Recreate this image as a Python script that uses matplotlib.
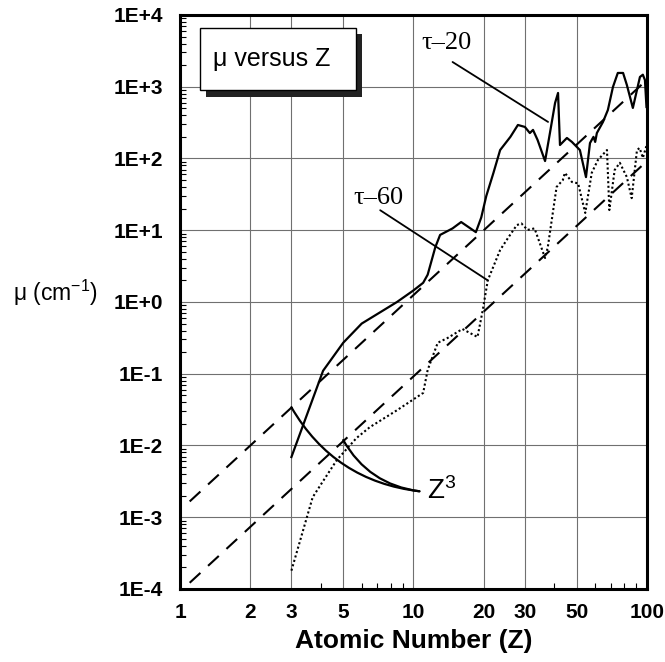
import matplotlib
matplotlib.use("Agg")
import matplotlib.pyplot as plt
from matplotlib.patches import Rectangle
from matplotlib.ticker import FixedLocator, NullFormatter

plt.rcParams["font.family"] = ["Liberation Sans", "DejaVu Sans"]
plt.rcParams["mathtext.fontset"] = "custom"
plt.rcParams["mathtext.rm"] = "Liberation Sans"
plt.rcParams["mathtext.it"] = "Liberation Sans"

# tau-20 curve (solid)
z_tau20 = [3, 4.1, 5, 6, 8.5, 10, 11, 11.5, 12.4, 13,
           14.7, 16, 18.5, 19.5, 20.5, 22, 23.5, 26, 28, 30,
           31.5, 32.5, 34, 36.6, 38.4, 40.4, 41.6, 42.4, 45.4, 47.7,
           51.6, 54.8, 57, 59, 60, 61, 64.8, 68, 71.5, 75,
           79, 82, 87, 90.6, 93.3, 96, 98, 99.5]
mu_tau20 = [0.0069, 0.11, 0.27, 0.5, 1.0, 1.45, 1.85, 2.4, 5.8, 8.6,
            10.6, 13, 9.4, 15, 30, 63, 131, 200, 293, 275,
            226, 250, 181, 92, 226, 594, 818, 154, 193, 170,
            131, 55, 164, 200, 170, 226, 323, 474, 993, 1555,
            1555, 1058, 506, 902, 1368, 1470, 1242, 522]

# tau-60 curve (dotted)
z_tau60 = [3, 3.7, 4.05, 4.7, 5.7, 6.5, 8.5, 11, 11.5, 12.7,
           14, 16.2, 18.8, 19.8, 20.8, 23.5, 25.4, 27.7, 29, 30.8,
           33, 36.6, 37.6, 41, 43.6, 44.5, 47.7, 50.7, 54.4, 58,
           61.6, 67.4, 69, 72.7, 76.5, 82, 86, 90.6, 93, 96,
           99.5]
mu_tau60 = [1.8e-4, 1.9e-3, 3.0e-3, 6.3e-3, 0.0127, 0.018, 0.031, 0.054, 0.113, 0.27,
            0.315, 0.42, 0.325, 0.77, 2.0, 5.3, 7.8, 11.8, 12.4, 10.1,
            10.6, 4.1, 5.8, 40, 50, 63, 47, 45, 17.4, 63,
            95, 131, 19.1, 69, 87, 55, 28, 131, 140, 102,
            150]

# Z^3 reference lines (end points)
z_ref = [1.1, 100]
mu_ref_upper = [1.66e-3, 1250]
mu_ref_lower = [1.22e-4, 92]

x_ticks = [1, 2, 3, 5, 10, 20, 30, 50, 100]
x_minor = [4, 6, 7, 8, 9, 40, 60, 70, 80, 90]
y_ticks = [1e-4, 1e-3, 1e-2, 1e-1, 1e0, 1e1, 1e2, 1e3, 1e4]
y_labels = ["1E-4", "1E-3", "1E-2", "1E-1", "1E+0", "1E+1", "1E+2", "1E+3", "1E+4"]

fig = plt.figure(figsize=(6.65, 6.62), dpi=100)
ax = fig.add_axes([0.2707, 0.1103, 0.7022, 0.8671])

ax.plot(z_ref, mu_ref_upper, color="black", lw=1.5, linestyle=(0, (7, 5)))
ax.plot(z_ref, mu_ref_lower, color="black", lw=1.5, linestyle=(0, (7, 5)))
ax.plot(z_tau20, mu_tau20, color="black", lw=1.6)
ax.plot(z_tau60, mu_tau60, color="black", lw=1.5, linestyle=(0, (1, 1.2)))

ax.set_xscale("log")
ax.set_yscale("log")
ax.set_xlim(1, 100)
ax.set_ylim(1e-4, 1e4)

ax.xaxis.set_major_locator(FixedLocator(x_ticks))
ax.set_xticklabels([str(t) for t in x_ticks])
ax.xaxis.set_minor_locator(FixedLocator(x_minor))
ax.xaxis.set_minor_formatter(NullFormatter())
ax.set_yticks(y_ticks)
ax.set_yticklabels(y_labels)
ax.yaxis.set_minor_formatter(NullFormatter())

ax.tick_params(which="major", length=0, labelsize=15, pad=12)
ax.tick_params(axis="x", which="major", pad=10)
ax.tick_params(which="minor", direction="in", length=4, width=0.8)
for lbl in ax.get_xticklabels() + ax.get_yticklabels():
    lbl.set_fontweight("bold")

ax.grid(True, which="major", color="#707070", lw=0.8)
for side in ["left", "bottom", "right", "top"]:
    ax.spines[side].set_linewidth(2.2)

ax.set_xlabel("Atomic Number (Z)", fontsize=19, fontweight="bold", labelpad=5)
fig.text(0.083, 0.557, "μ (cm$^{-1}$)", fontsize=16.5, ha="center", va="center")

# title box with shadow
ax.add_patch(Rectangle((0.056, 0.857), 0.334, 0.11, transform=ax.transAxes,
                       facecolor="#222222", edgecolor="none", zorder=5))
ax.add_patch(Rectangle((0.043, 0.869), 0.334, 0.108, transform=ax.transAxes,
                       facecolor="white", edgecolor="black", lw=1.0, zorder=6))
ax.text(0.197, 0.924, "μ versus Z", transform=ax.transAxes, fontsize=18,
        ha="center", va="center", zorder=7)

# curve labels
ax.text(13.8, 4070, "τ–20", fontsize=19, family="Liberation Serif",
        ha="center", va="center")
ax.annotate("", xy=(37.7, 323), xytext=(14.7, 2210),
            arrowprops=dict(arrowstyle="-", color="black", lw=1.3,
                            shrinkA=0, shrinkB=0))
ax.text(7.05, 28, "τ–60", fontsize=19, family="Liberation Serif",
        ha="center", va="center")
ax.annotate("", xy=(20.8, 2.0), xytext=(7.2, 19),
            arrowprops=dict(arrowstyle="-", color="black", lw=1.3,
                            shrinkA=0, shrinkB=0))

# Z^3 pointer curves
ax.annotate("", xy=(10.6, 2.3e-3), xytext=(3, 0.034),
            arrowprops=dict(arrowstyle="-", color="black", lw=1.6,
                            shrinkA=0, shrinkB=0,
                            connectionstyle="arc3,rad=0.25"))
ax.annotate("", xy=(10.6, 2.3e-3), xytext=(5, 0.0119),
            arrowprops=dict(arrowstyle="-", color="black", lw=1.6,
                            shrinkA=0, shrinkB=0,
                            connectionstyle="arc3,rad=0.25"))
ax.text(11.4, 2.3e-3, "Z$^3$", fontsize=20, ha="left", va="center")

fig.savefig("out.png", dpi=100)
